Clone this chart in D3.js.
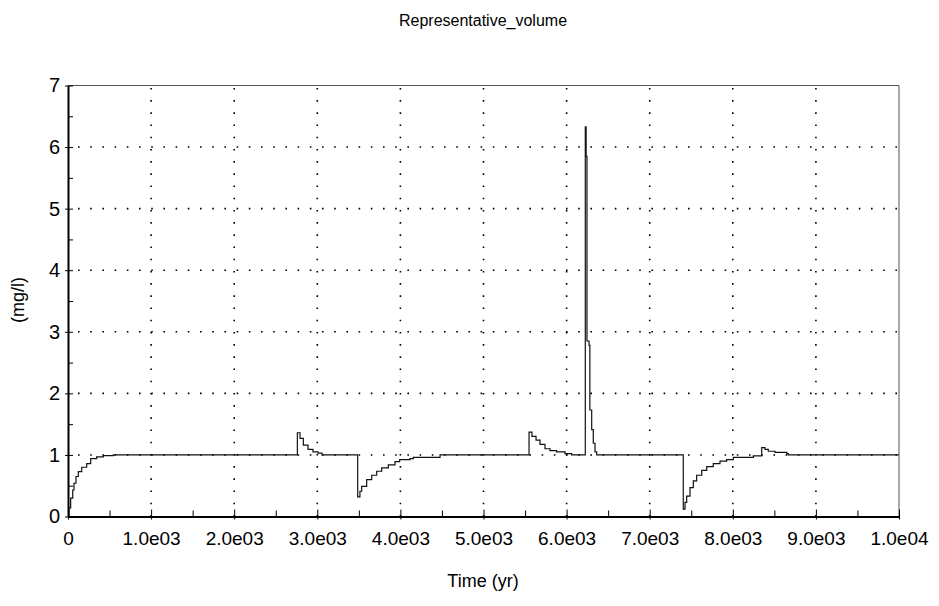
<!DOCTYPE html>
<html>
<head>
<meta charset="utf-8">
<script src="https://cdn.jsdelivr.net/npm/d3@7"></script>
<style>
  body { margin: 0; background: #fff; }
  svg text { font-family: "Liberation Sans", Arial, sans-serif; fill: #000; }
</style>
</head>
<body>
<svg id="chart" width="939" height="606"></svg>
<script>
// concentration in the representative volume
var times = [0, 12, 32, 57, 72, 96, 124, 165, 225, 273, 345, 425, 545,
  2760, 2792, 2832, 2888, 2948, 3008, 3057,
  3486, 3513, 3534, 3594, 3655, 3715, 3775, 3855, 3935, 3991, 4115, 4155, 4477,
  5548, 5583, 5632, 5680, 5740, 5800, 5880, 5981, 6061,
  6225, 6235, 6245, 6270, 6280, 6302, 6321, 6342, 6362,
  7404, 7425, 7445, 7485, 7525, 7565, 7626, 7686, 7765, 7846, 7926, 8006, 8247,
  8348, 8387, 8427, 8508, 8649, 8668, 10000];
var concentration = [0, 0.14, 0.30, 0.43, 0.54, 0.65, 0.73, 0.80, 0.86, 0.94, 0.97, 0.99, 1.0,
  1.36, 1.27, 1.16, 1.09, 1.05, 1.03, 1.0,
  0.32, 0.41, 0.49, 0.60, 0.67, 0.735, 0.79, 0.84, 0.89, 0.925, 0.94, 0.96, 1.0,
  1.37, 1.30, 1.24, 1.17, 1.10, 1.07, 1.05, 1.02, 1.0,
  6.33, 5.85, 2.85, 2.78, 1.73, 1.41, 1.19, 1.05, 1.0,
  0.12, 0.23, 0.33, 0.47, 0.58, 0.67, 0.75, 0.81, 0.86, 0.90, 0.925, 0.96, 0.985,
  1.12, 1.09, 1.06, 1.04, 1.02, 1.0, 1.0];

var xTicks = [0, 1000, 2000, 3000, 4000, 5000, 6000, 7000, 8000, 9000, 10000];
var xTickLabels = ['0', '1.0e03', '2.0e03', '3.0e03', '4.0e03', '5.0e03',
  '6.0e03', '7.0e03', '8.0e03', '9.0e03', '1.0e04'];
var yTicks = [0, 1, 2, 3, 4, 5, 6, 7];

// plot box (window.top is reserved, so prefix the names)
var plotLeft = 68, plotRight = 899, plotTop = 85.5, plotBottom = 516.5;

var svg = d3.select('#chart');

var x = d3.scaleLinear().domain([0, 10000]).range([plotLeft, plotRight]);
var y = d3.scaleLinear().domain([0, 7]).range([plotBottom, plotTop]);

// frame: thin grey top and right edges
svg.append('path')
  .attr('d', 'M' + plotLeft + ',' + plotTop + 'H' + plotRight + 'V' + plotBottom)
  .attr('fill', 'none')
  .attr('stroke', '#555')
  .attr('stroke-width', 1);

// dotted grid
svg.append('g')
  .selectAll('line')
  .data(xTicks.slice(1, -1))
  .enter()
  .append('line')
  .attr('x1', function(d) { return x(d); })
  .attr('x2', function(d) { return x(d); })
  .attr('y1', plotBottom)
  .attr('y2', plotTop)
  .attr('stroke', '#000')
  .attr('stroke-width', 1.6)
  .attr('stroke-dasharray', '1.6 10.6');

svg.append('g')
  .selectAll('line')
  .data(yTicks.slice(1, -1))
  .enter()
  .append('line')
  .attr('x1', plotLeft)
  .attr('x2', plotRight)
  .attr('y1', function(d) { return y(d); })
  .attr('y2', function(d) { return y(d); })
  .attr('stroke', '#000')
  .attr('stroke-width', 1.6)
  .attr('stroke-dasharray', '1.6 10.6')
  .attr('stroke-dashoffset', -10);

// the series
var points = times.map(function(t, i) { return [t, concentration[i]]; });
var line = d3.line()
  .x(function(d) { return x(d[0]); })
  .y(function(d) { return y(d[1]); })
  .curve(d3.curveStepAfter);

svg.append('path')
  .datum(points)
  .attr('d', line)
  .attr('fill', 'none')
  .attr('stroke', '#111')
  .attr('stroke-width', 1.2);

// bottom axis, ticks point inward
var xAxis = d3.axisBottom(x)
  .tickValues(d3.range(0, 10001, 500))
  .tickSizeInner(-6)
  .tickSizeOuter(0)
  .tickFormat(function(d) {
    var i = xTicks.indexOf(d);
    return i < 0 ? '' : xTickLabels[i];
  });

var gx = svg.append('g')
  .attr('transform', 'translate(0,' + plotBottom + ')')
  .call(xAxis);
gx.select('.domain').attr('stroke', '#000').attr('stroke-width', 2);
gx.selectAll('.tick line')
  .attr('stroke', '#000')
  .attr('stroke-width', 1)
  .attr('y2', function(d) { return d % 1000 === 0 ? -7 : -6; })
  .attr('y1', function(d) { return d % 1000 === 0 ? 3 : 0; });
gx.selectAll('.tick text')
  .attr('y', 15)
  .attr('dy', '0.71em')
  .style('font-size', '19px')
  .style('font-family', '"Liberation Sans", Arial, sans-serif');

// left axis
var yAxis = d3.axisLeft(y)
  .tickValues(d3.range(0, 7.01, 0.5))
  .tickSizeInner(-5)
  .tickSizeOuter(0)
  .tickFormat(function(d) { return d % 1 === 0 ? d : ''; });

var gy = svg.append('g')
  .attr('transform', 'translate(' + plotLeft + ',0)')
  .call(yAxis);
gy.select('.domain').attr('stroke', '#000').attr('stroke-width', 2);
gy.selectAll('.tick line')
  .attr('stroke', '#000')
  .attr('stroke-width', 1)
  .attr('x1', function(d) { return d % 1 === 0 ? -3 : 0; });
gy.selectAll('.tick text')
  .attr('x', -8)
  .style('font-size', '20px')
  .style('font-family', '"Liberation Sans", Arial, sans-serif');

// titles
svg.append('text')
  .attr('x', 483)
  .attr('y', 26)
  .attr('text-anchor', 'middle')
  .style('font-size', '16px')
  .text('Representative_volume');

svg.append('text')
  .attr('x', 483)
  .attr('y', 587)
  .attr('text-anchor', 'middle')
  .style('font-size', '18px')
  .text('Time (yr)');

svg.append('text')
  .attr('transform', 'translate(24,300) rotate(-90)')
  .attr('text-anchor', 'middle')
  .style('font-size', '18px')
  .text('(mg/l)');
</script>
</body>
</html>
